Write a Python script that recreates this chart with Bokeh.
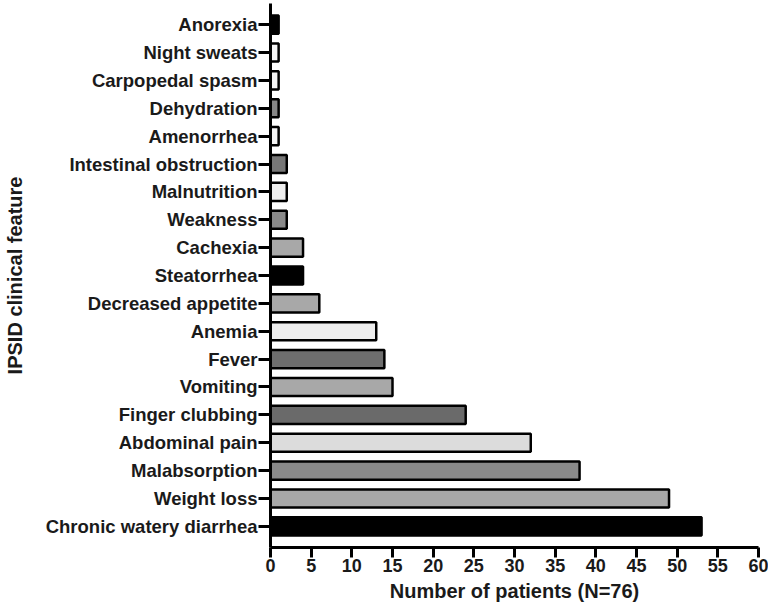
from bokeh.plotting import figure
from bokeh.models import ColumnDataSource, FactorRange, SingleIntervalTicker
from bokeh.embed import file_html
from bokeh.resources import INLINE

features = ["Chronic watery diarrhea", "Weight loss", "Malabsorption", "Abdominal pain",
            "Finger clubbing", "Vomiting", "Fever", "Anemia", "Decreased appetite",
            "Steatorrhea", "Cachexia", "Weakness", "Malnutrition", "Intestinal obstruction",
            "Amenorrhea", "Dehydration", "Carpopedal spasm", "Night sweats", "Anorexia"]
patients = [53, 49, 38, 32, 24, 15, 14, 13, 6, 4, 4, 2, 2, 2, 1, 1, 1, 1, 1]
fills = ["#000000", "#a8a8a8", "#8a8a8a", "#dcdcdc", "#6a6a6a", "#a8a8a8", "#6e6e6e",
         "#eeeeee", "#a8a8a8", "#000000", "#a8a8a8", "#8a8a8a", "#eeeeee", "#777777",
         "#f4f4f4", "#888888", "#f4f4f4", "#f4f4f4", "#000000"]
x_title = "Number of patients (N=76)"
y_title = "IPSID clinical feature"

src = ColumnDataSource(dict(feature=features, n=patients, fill=fills))

p = figure(width=768, height=604, output_backend="svg", toolbar_location=None,
           y_range=FactorRange(*features, range_padding=0.26, range_padding_units="absolute"),
           x_range=(0, 60),
           min_border_left=10, min_border_right=10, min_border_top=3, min_border_bottom=10)

p.hbar(y="feature", right="n", left=0, height=0.65, source=src,
       fill_color="fill", line_color="black", line_width=2.5)

p.grid.visible = False
p.outline_line_color = None

FONT = "Liberation Sans"
p.xaxis.ticker = SingleIntervalTicker(interval=5)
p.xaxis.minor_tick_line_color = None
p.xaxis.axis_label = x_title
p.yaxis.axis_label = y_title
for ax in (p.xaxis, p.yaxis):
    ax.axis_line_width = 3
    ax.axis_line_color = "black"
    ax.major_tick_line_width = 3
    ax.major_tick_line_color = "black"
    ax.major_tick_in = 0
    ax.major_label_text_font = FONT
    ax.major_label_text_font_style = "bold"
    ax.major_label_text_color = "#1a1a1a"
    ax.axis_label_text_font = FONT
    ax.axis_label_text_font_style = "bold"
    ax.axis_label_text_font_size = "20px"
    ax.axis_label_text_color = "#1a1a1a"

p.xaxis.major_tick_out = 10
p.xaxis.major_label_standoff = 1
p.xaxis.major_label_text_font_size = "18px"
p.xaxis.axis_label_standoff = 5
p.yaxis.major_tick_out = 12
p.yaxis.major_label_standoff = 1
p.yaxis.major_label_text_font_size = "18.5px"
p.yaxis.axis_label_standoff = 17

open("out.html", "w").write(file_html(p, INLINE))
